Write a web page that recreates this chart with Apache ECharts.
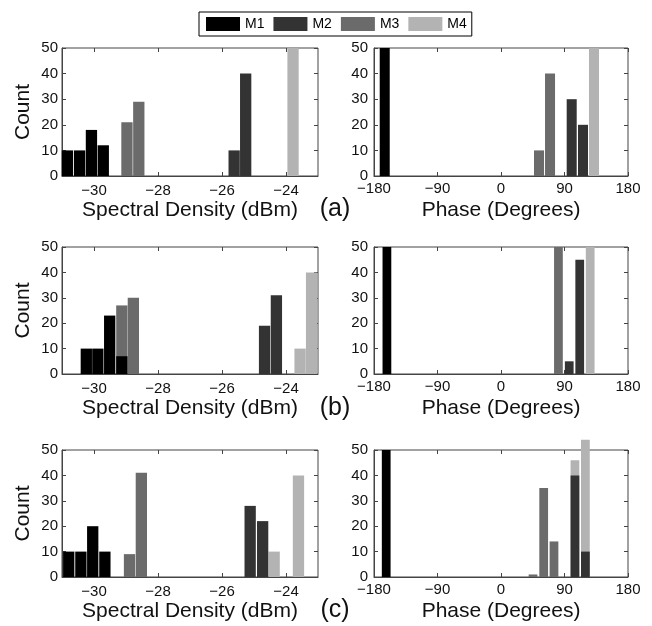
<!DOCTYPE html>
<html>
<head>
<meta charset="utf-8">
<script src="https://cdn.jsdelivr.net/npm/echarts@6/dist/echarts.min.js"></script>
<style>html,body{margin:0;padding:0;background:#fff}#c{width:652px;height:626px}</style>
</head>
<body>
<div id="c"></div>
<script>
// ---- data: [bin centre, count] ----
const seriesNames = ['M1', 'M2', 'M3', 'M4'];
const specTicks = [-30, -28, -26, -24];
const countTicks = [0, 10, 20, 30, 40, 50];

// (a)
const aSpecM1 = [[-30.83, 10], [-30.45, 10], [-30.08, 18], [-29.71, 12]];
const aSpecM2 = [[-25.62, 10], [-25.26, 40]];
const aSpecM3 = [[-28.97, 21], [-28.60, 29]];
const aSpecM4 = [[-23.78, 50]];
const aPhaseM1 = [[-164.8, 50]];
const aPhaseM2 = [[100.2, 30], [116.2, 20]];
const aPhaseM3 = [[53.9, 10], [69.5, 40]];
const aPhaseM4 = [[131.8, 50]];
// (b)
const bSpecM1 = [[-30.24, 10], [-29.88, 10], [-29.51, 23], [-29.13, 7]];
const bSpecM2 = [[-24.67, 19], [-24.30, 31]];
const bSpecM3 = [[-29.13, 27], [-28.77, 30]];
const bSpecM4 = [[-23.56, 10], [-23.20, 40]];
const bPhaseM1 = [[-161.7, 50]];
const bPhaseM2 = [[96.7, 5], [111.6, 45]];
const bPhaseM3 = [[81.4, 50]];
const bPhaseM4 = [[126.4, 50]];
// (c)
const cSpecM1 = [[-30.79, 10], [-30.41, 10], [-30.04, 20], [-29.66, 10]];
const cSpecM2 = [[-25.12, 28], [-24.73, 22]];
const cSpecM3 = [[-28.89, 9], [-28.52, 41]];
const cSpecM4 = [[-24.37, 10], [-23.61, 40]];
const cPhaseM1 = [[-162.7, 50]];
const cPhaseM2 = [[104.8, 40], [119.6, 10]];
const cPhaseM3 = [[45.4, 1], [60.5, 35], [75.1, 14]];
const cPhaseM4 = [[104.8, 46], [119.6, 54]];

// ---- layout / style ----
const FONT = '"Liberation Sans", Arial, Helvetica, sans-serif';
const colors = { M1: '#000000', M2: '#333333', M3: '#6b6b6b', M4: '#b3b3b3' };
const drawOrder = ['M4', 'M3', 'M2', 'M1'];

const panels = [
  { kind: 'spec', left: 62, top: 48, width: 256, height: 128, barW: 0.353,
    data: { M1: aSpecM1, M2: aSpecM2, M3: aSpecM3, M4: aSpecM4 } },
  { kind: 'phase', left: 374, top: 48, width: 254, height: 128, barW: 14.2,
    data: { M1: aPhaseM1, M2: aPhaseM2, M3: aPhaseM3, M4: aPhaseM4 } },
  { kind: 'spec', left: 62, top: 247, width: 256, height: 127, barW: 0.353,
    data: { M1: bSpecM1, M2: bSpecM2, M3: bSpecM3, M4: bSpecM4 } },
  { kind: 'phase', left: 374, top: 247, width: 254, height: 127, barW: 12.4,
    data: { M1: bPhaseM1, M2: bPhaseM2, M3: bPhaseM3, M4: bPhaseM4 } },
  { kind: 'spec', left: 62, top: 450, width: 256, height: 127, barW: 0.353,
    data: { M1: cSpecM1, M2: cSpecM2, M3: cSpecM3, M4: cSpecM4 } },
  { kind: 'phase', left: 374, top: 450, width: 254, height: 127, barW: 12.4,
    data: { M1: cPhaseM1, M2: cPhaseM2, M3: cPhaseM3, M4: cPhaseM4 } }
];
const panelLabels = [
  { text: '(a)', x: 335, y: 209 },
  { text: '(b)', x: 335, y: 408 },
  { text: '(c)', x: 335, y: 610 }
];

const minus = v => String(v).replace('-', '\u2212');
const lineColor = '#444';

const option = {
  animation: false,
  backgroundColor: '#fff',
  textStyle: { fontFamily: FONT },
  legend: {
    data: seriesNames,
    left: 199, top: 12,
    orient: 'horizontal',
    icon: 'rect',
    itemWidth: 34, itemHeight: 14, itemGap: 9,
    padding: [5, 5, 5, 7],
    borderColor: '#000', borderWidth: 1,
    backgroundColor: '#fff',
    selectedMode: false,
    textStyle: { fontFamily: FONT, fontSize: 14, color: '#000', padding: [0, 0, 0, 0] }
  },
  grid: [], xAxis: [], yAxis: [], series: [], graphic: []
};

panels.forEach((p, i) => {
  option.grid.push({
    left: p.left, top: p.top, width: p.width, height: p.height,
    show: true, borderColor: lineColor, borderWidth: 1,
    containLabel: false, outerBoundsMode: 'none'
  });
  const isSpec = p.kind === 'spec';
  const xBase = isSpec
    ? { min: -31, max: -23 }
    : { min: -180, max: 180, interval: 90 };
  const bottomX = Object.assign({
    type: 'value', gridIndex: i, position: 'bottom',
    splitLine: { show: false },
    axisLine: { show: true, onZero: false, lineStyle: { color: lineColor, width: 1 } },
    axisTick: { show: true, inside: true, length: 4, lineStyle: { color: lineColor } },
    axisLabel: {
      show: true, margin: isSpec ? 7 : 5, fontSize: 15, color: '#111', fontFamily: FONT,
      formatter: minus
    },
    name: isSpec ? 'Spectral Density (dBm)' : 'Phase (Degrees)',
    nameLocation: 'middle', nameGap: 24,
    nameTextStyle: { fontSize: 21, color: '#111', fontFamily: FONT }
  }, xBase);
  if (isSpec) {
    bottomX.axisLabel.customValues = specTicks;
    bottomX.axisTick.customValues = specTicks;
  }
  const topX = Object.assign({
    type: 'value', gridIndex: i, position: 'top',
    splitLine: { show: false },
    axisLine: { show: false, onZero: false },
    axisTick: { show: true, inside: true, length: 4, lineStyle: { color: lineColor } },
    axisLabel: { show: false }
  }, xBase);
  if (isSpec) {
    topX.axisTick.customValues = specTicks;
    topX.axisLabel.customValues = specTicks;
  }
  option.xAxis.push(bottomX, topX);

  const leftY = {
    type: 'value', gridIndex: i, position: 'left', min: 0, max: 50, interval: 10,
    splitLine: { show: false },
    axisLine: { show: true, onZero: false, lineStyle: { color: lineColor, width: 1 } },
    axisTick: { show: true, inside: true, length: 4, lineStyle: { color: lineColor } },
    axisLabel: { show: true, margin: isSpec ? 4 : 6, fontSize: 15, color: '#111', fontFamily: FONT }
  };
  if (isSpec) {
    leftY.name = 'Count';
    leftY.nameLocation = 'middle';
    leftY.nameGap = 28;
    leftY.nameTextStyle = { fontSize: 21, color: '#111', fontFamily: FONT };
  }
  const rightY = {
    type: 'value', gridIndex: i, position: 'right', min: 0, max: 50, interval: 10,
    splitLine: { show: false },
    axisLine: { show: false, onZero: false },
    axisTick: { show: true, inside: true, length: 4, lineStyle: { color: lineColor } },
    axisLabel: { show: false }
  };
  option.yAxis.push(leftY, rightY);

  const w = p.barW;
  drawOrder.forEach(name => {
    option.series.push({
      type: 'custom',
      name: name,
      xAxisIndex: 2 * i,
      yAxisIndex: 2 * i,
      clip: false,
      itemStyle: { color: colors[name] },
      encode: { x: 0, y: 1 },
      data: p.data[name],
      renderItem: function (params, api) {
        const x = api.value(0), y = api.value(1);
        const p0 = api.coord([x - w / 2, y]);
        const p1 = api.coord([x + w / 2, 0]);
        return {
          type: 'rect',
          shape: { x: p0[0], y: p0[1], width: p1[0] - p0[0], height: p1[1] - p0[1] },
          style: { fill: api.visual('color') }
        };
      }
    });
  });
});

panelLabels.forEach(l => {
  option.graphic.push({
    type: 'text', x: l.x, y: l.y,
    style: { text: l.text, font: '25px ' + FONT, fill: '#111', align: 'center', verticalAlign: 'middle' }
  });
});

const chart = echarts.init(document.getElementById('c'), null, { renderer: 'canvas' });
chart.setOption(option);
</script>
</body>
</html>
